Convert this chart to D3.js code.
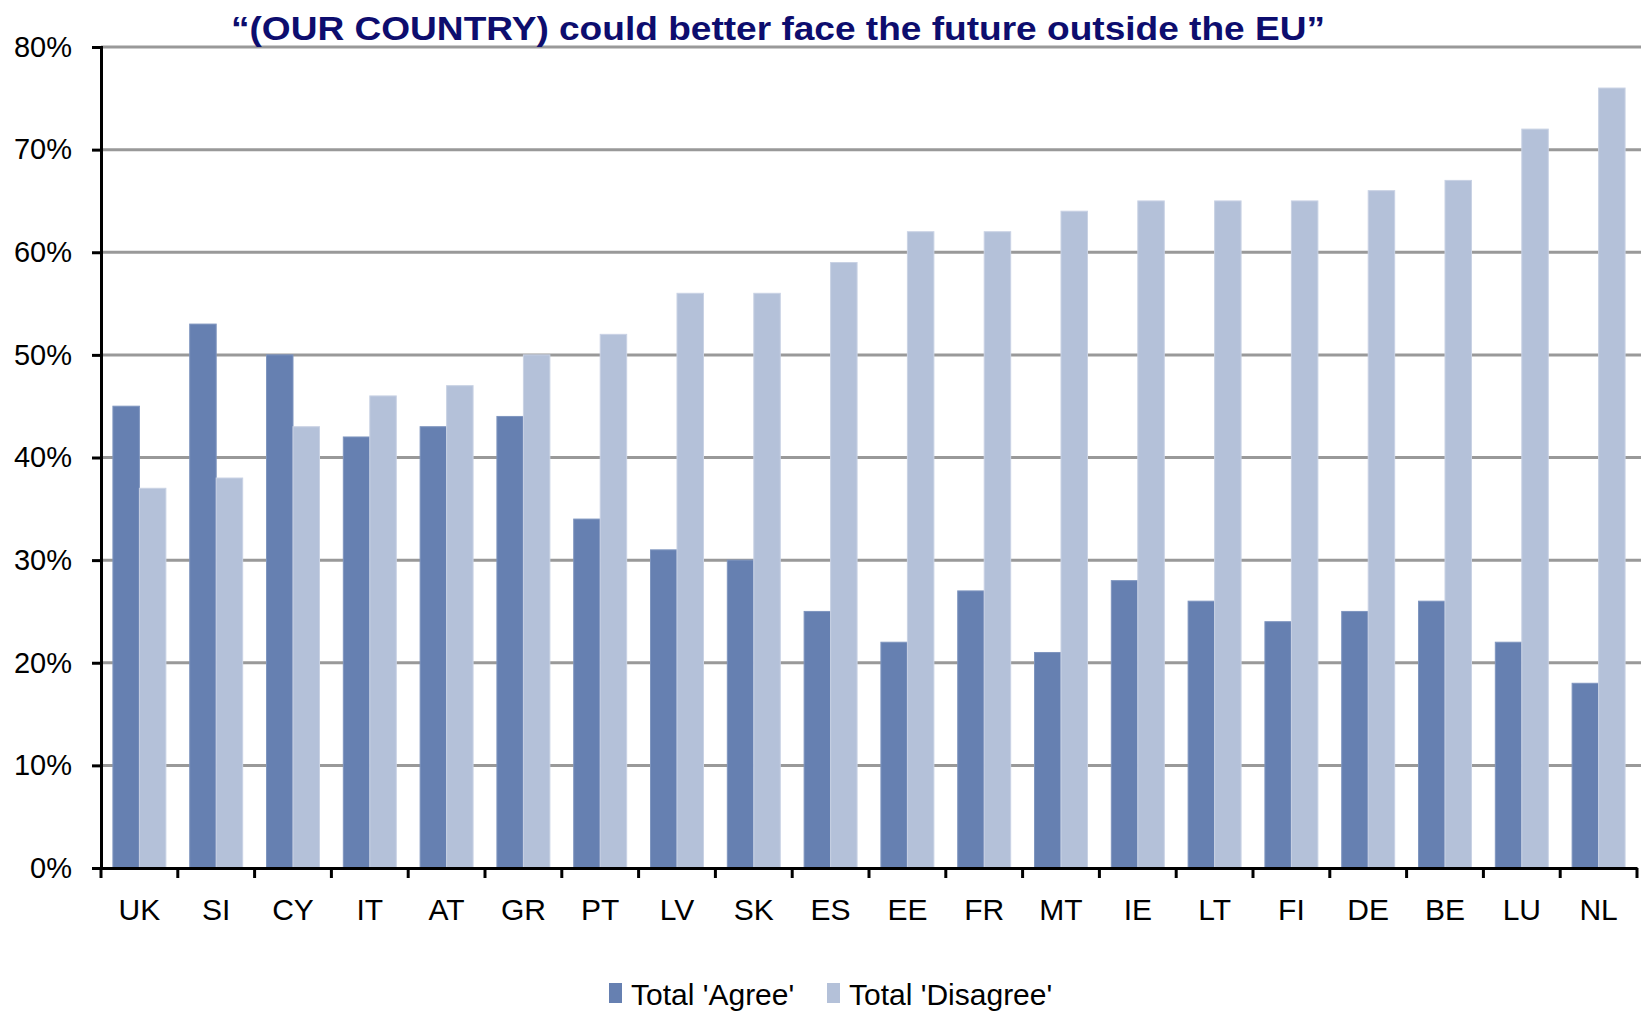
<!DOCTYPE html>
<html>
<head>
<meta charset="utf-8">
<script src="https://cdn.jsdelivr.net/npm/d3@7"></script>
<style>
  body { margin: 0; background: #fff; }
  svg { display: block; font-family: "Liberation Sans", Arial, sans-serif; }
</style>
</head>
<body>
<div id="chart"></div>
<script>
// country codes, ordered as in the survey chart
const countries = ["UK", "SI", "CY", "IT", "AT", "GR", "PT", "LV", "SK", "ES",
                   "EE", "FR", "MT", "IE", "LT", "FI", "DE", "BE", "LU", "NL"];
const agree    = [45, 53, 50, 42, 43, 44, 34, 31, 30, 25, 22, 27, 21, 28, 26, 24, 25, 26, 22, 18];
const disagree = [37, 38, 43, 46, 47, 50, 52, 56, 56, 59, 62, 62, 64, 65, 65, 65, 66, 67, 72, 76];
const yTicks = [0, 10, 20, 30, 40, 50, 60, 70, 80];
const seriesNames = ["Total 'Agree'", "Total 'Disagree'"];
const colors = ["#6680b1", "#b4c1d9"];

const width = 1641, height = 1012;
const margin = { top: 47, right: 4, bottom: 144, left: 101 };

const svg = d3.select("#chart").append("svg")
    .attr("width", width)
    .attr("height", height);

const x = d3.scaleBand()
    .domain(countries)
    .range([margin.left, width - margin.right])
    .padding(0);

// two bars per country, touching, with room on both sides
const sub = d3.scaleBand()
    .domain([0, 1])
    .range([0, x.bandwidth()])
    .paddingInner(0)
    .paddingOuter(0.45);

const y = d3.scaleLinear()
    .domain([0, 80])
    .range([height - margin.bottom, margin.top]);

// grid lines
svg.append("g")
    .selectAll("line")
    .data(yTicks.filter(d => d > 0))
    .enter().append("line")
    .attr("x1", margin.left)
    .attr("x2", width)
    .attr("y1", d => y(d))
    .attr("y2", d => y(d))
    .attr("stroke", "#999")
    .attr("stroke-width", 3);

// bars
const groups = svg.append("g")
    .selectAll("g")
    .data(countries)
    .enter().append("g")
    .attr("transform", d => `translate(${x(d)},0)`);

[agree, disagree].forEach((vals, s) => {
    groups.append("rect")
        .attr("x", sub(s))
        .attr("width", sub.bandwidth())
        .attr("y", (d, i) => y(vals[i]))
        .attr("height", (d, i) => y(0) - y(vals[i]))
        .attr("fill", colors[s])
        .attr("stroke", s === 0 ? "#7f95bf" : "#c9d2e4")
        .attr("stroke-width", 1);
});

// y axis
const yAxis = svg.append("g")
    .attr("transform", `translate(${margin.left},0)`)
    .call(d3.axisLeft(y).tickValues(yTicks).tickFormat(d => d + "%").tickSize(9).tickPadding(20));
yAxis.select(".domain").attr("stroke", "#000").attr("stroke-width", 3);
yAxis.selectAll(".tick line").attr("stroke", "#000").attr("stroke-width", 3);
yAxis.selectAll(".tick text")
    .attr("font-size", 29)
    .attr("fill", "#000")
    .attr("font-family", "Liberation Sans, Arial, sans-serif");

// x axis
const xAxis = svg.append("g")
    .attr("transform", `translate(0,${y(0)})`)
    .call(d3.axisBottom(x).tickSize(0).tickPadding(31));
xAxis.select(".domain").attr("stroke", "#000").attr("stroke-width", 3);
xAxis.selectAll(".tick text")
    .attr("font-size", 30)
    .attr("fill", "#000")
    .attr("font-family", "Liberation Sans, Arial, sans-serif");

// tick marks between categories
svg.append("g")
    .selectAll("line")
    .data(countries.concat(["end"]))
    .enter().append("line")
    .attr("x1", (d, i) => i < countries.length ? x(d) : x.range()[1])
    .attr("x2", (d, i) => i < countries.length ? x(d) : x.range()[1])
    .attr("y1", y(0))
    .attr("y2", y(0) + 10)
    .attr("stroke", "#000")
    .attr("stroke-width", 3);

// title
svg.append("text")
    .attr("x", 231)
    .attr("y", 40)
    .attr("font-size", 33)
    .attr("font-weight", "bold")
    .attr("fill", "#0d0d6e")
    .attr("textLength", 1094)
    .attr("lengthAdjust", "spacingAndGlyphs")
    .text("\u201C(OUR COUNTRY) could better face the future outside the EU\u201D");

// legend
const legendX = [609, 827];
const legend = svg.append("g")
    .selectAll("g")
    .data(seriesNames)
    .enter().append("g")
    .attr("transform", (d, i) => `translate(${legendX[i]},983)`);

legend.append("rect")
    .attr("width", 13)
    .attr("height", 20)
    .attr("fill", (d, i) => colors[i]);

legend.append("text")
    .attr("x", 22)
    .attr("y", 22)
    .attr("font-size", 30)
    .attr("fill", "#000")
    .text(d => d);
</script>
</body>
</html>
